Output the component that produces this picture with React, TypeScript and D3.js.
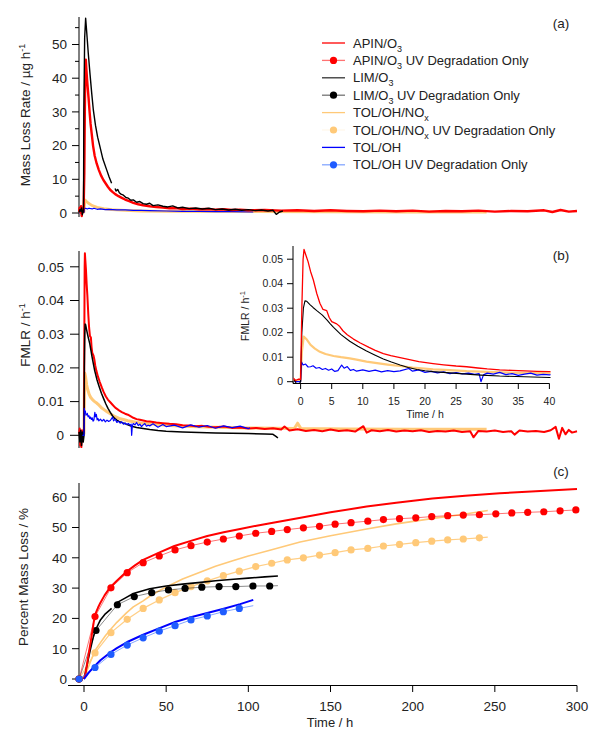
import React from 'react';
import * as d3 from 'd3';

type P = [number, number | null];

const RED = '#ff0000';
const BLACK = '#000000';
const ORANGE = '#ffc978';
const BLUE = '#0000ff';
const BLUE_DOT = '#1f5cff';
const FONT = 'Liberation Sans, Arial, sans-serif';

// ---------- Panel (a): mass loss rate, µg/h ----------
const apinRate: P[] = [
  [-3, 0.4], [-2.6, 1.6], [-2.2, 0.2], [-1.8, 2.0], [-1.4, -0.9], [-1, 1.2], [-0.6, 0.3], [-0.2, 1.8],
  [0.2, 12], [0.5, 30], [0.8, 43], [1.1, 45.5], [1.4, 43], [1.8, 40], [2.3, 37], [2.8, 34], [3.4, 30],
  [4, 26.5], [4.7, 23.5], [5.5, 20], [6.5, 17], [7.7, 14.7], [9, 12.8], [10.5, 11], [11.8, 9.8],
  [13, 8.9], [14.5, 7.8], [15.9, 6.9], [17.5, 6.2], [19, 5.6], [21, 5.0], [23, 4.5], [25, 4.0],
  [27.5, 3.5], [30, 3.0], [33, 2.6], [36, 2.3], [40, 2.0], [44, 1.8], [48, 1.6], [52, 1.4], [56, 1.5],
  [60, 1.2], [65, 1.3], [70, 1.1], [75, 1.2], [80, 1.0], [85, 1.1], [90, 0.9], [95, 1.0], [100, 0.8],
  [110, 0.9], [120, 0.7], [130, 0.8], [140, 0.6], [150, 0.8], [160, 0.6], [170, 0.5], [180, 0.7],
  [190, 0.5], [200, 0.7], [210, 0.4], [220, 0.6], [230, 0.5], [240, 0.7], [250, 0.4], [260, 0.6],
  [270, 0.5], [280, 0.8], [285, 0.3], [290, 0.9], [295, 0.4], [300, 0.6],
];
const limRate: P[] = [
  [-3, 0.2], [-2.5, 1.0], [-2, 0.5], [-1.5, 1.5], [-1, -0.5], [-0.6, 0.8], [-0.3, 0.3],
  [-0.1, 30], [0.4, 52], [1.0, 57.8], [1.6, 54], [2.6, 47.4], [3.7, 41], [4.7, 35.5], [5.7, 30.5],
  [7, 26], [8.3, 22.5], [9.7, 19.7], [11.5, 16], [13.8, 12.8], [15.3, 10.7], [16.8, 8.8], [17.8, null],
  [18.9, 7.3], [19.5, 6.5], [20.5, 7.0], [21.5, 6.0], [22.5, 5.6], [24, 5.3], [25.5, 4.6], [27, 4.4],
  [28.5, 3.8], [30, 3.9], [32, 3.2], [34, 3.4], [36, 2.8], [38, 2.6], [40, 2.9], [42, 2.2], [45, 2.4],
  [48, 2.0], [51, 1.8], [54, 2.1], [57, 1.5], [60, 1.7], [64, 1.3], [68, 1.5], [72, 1.2], [76, 1.4],
  [80, 1.0], [84, 1.2], [88, 0.9], [92, 1.1], [96, 0.8], [100, 1.0], [104, 0.7], [108, 0.9], [112, 0.6],
  [115, 0.8], [117, -0.4], [119, 0.3], [121, 0.6],
];
const tolNoxRate: P[] = [
  [-3, 0.2], [-1, 0.3], [0, 0.3], [0.2, 2], [0.6, 3.9], [1.5, 3.4], [3, 2.8], [5, 2.2], [8, 1.7],
  [12, 1.3], [17, 1.0], [25, 0.8], [35, 0.6], [50, 0.5], [100, 0.4], [150, 0.35], [200, 0.3], [245, 0.3],
];
const tolRate: P[] = [
  [-3, 0.0], [0, 0.2], [0.3, 1.3], [1, 1.4], [2, 1.2], [3, 1.4], [5, 1.2], [6, 1.4], [8, 1.1],
  [10, 1.2], [13, 1.0], [15, 1.1], [20, 0.9], [25, 0.9], [30, 0.8], [35, 0.8], [40, 0.7], [50, 0.6],
  [60, 0.5], [70, 0.5], [80, 0.4], [90, 0.4], [103, 0.3],
];

// ---------- Panel (b): fractional mass loss rate, 1/h ----------
const apinFmlr: P[] = [
  [-3, 0.0005], [-2.6, 0.002], [-2.3, -0.003], [-2, 0.001], [-1.6, -0.0035], [-1.2, 0.0015],
  [-0.8, 0.0005], [-0.4, 0.001], [0, 0.001], [0.2, 0.03], [0.4, 0.05], [0.55, 0.054], [0.8, 0.052],
  [1.2, 0.049], [1.6, 0.045], [2.05, 0.0415], [2.6, 0.036], [3.1, 0.032], [3.6, 0.0295], [4.2, 0.029],
  [4.6, 0.0262], [5, 0.0245], [5.8, 0.0236], [6.3, 0.0225], [6.8, 0.0208], [7.5, 0.0192], [8.5, 0.0174],
  [9.6, 0.0158], [11, 0.014], [12, 0.0128], [13.3, 0.0115], [14.5, 0.0106], [16, 0.0098], [17.5, 0.009],
  [19, 0.0082], [21.3, 0.0074], [23, 0.0069], [25, 0.0064], [26.7, 0.0061], [28.5, 0.0056], [30, 0.0052],
  [32, 0.0048], [34, 0.0046], [36, 0.0044], [38, 0.0042], [40, 0.0041], [44, 0.0038], [48, 0.0036],
  [52, 0.0034], [56, 0.0033], [60, 0.0030], [64, 0.0029], [68, 0.0027], [72, 0.0028], [76, 0.0025],
  [80, 0.0024], [85, 0.0026], [90, 0.0022], [95, 0.0023], [100, 0.0020], [105, 0.0022], [110, 0.0019],
  [115, 0.0021], [120, 0.0017], [122, 0.0026], [125, 0.0014], [130, 0.0018], [135, 0.0013], [140, 0.0016],
  [145, 0.0012], [150, 0.0017], [155, 0.0013], [160, 0.0015], [165, 0.0011], [170, 0.0027], [172, 0.0008],
  [175, 0.0015], [180, 0.0012], [185, 0.0016], [190, 0.0011], [195, 0.0014], [200, 0.0012], [205, 0.0015],
  [210, 0.0010], [215, 0.0013], [220, 0.0011], [225, 0.0014], [230, 0.0010], [235, 0.0012], [237, -0.0006],
  [240, 0.0013], [245, 0.0011], [250, 0.0014], [255, 0.0010], [260, 0.0012], [262, 0.0002], [265, 0.0014],
  [270, 0.0011], [275, 0.0013], [280, 0.0010], [284, 0.0015], [287, 0.0025], [289, -0.0010], [291, 0.0022],
  [293, 0.0003], [295, 0.0016], [297, 0.0008], [300, 0.0012],
];
const limFmlr: P[] = [
  [-3, 0.001], [-2.5, -0.002], [-2, 0.0015], [-1.5, -0.003], [-1, 0.001], [-0.5, -0.002], [0, 0],
  [0.2, 0.02], [0.45, 0.03], [0.7, 0.033], [1, 0.0328], [1.5, 0.0315], [2, 0.0303], [2.6, 0.029],
  [3.5, 0.0272], [4.3, 0.025], [4.7, 0.0238], [5.3, 0.0222], [6.5, 0.0192], [7.9, 0.0165], [9.2, 0.0145],
  [10.6, 0.0125], [12, 0.0108], [13.3, 0.0093], [14.6, 0.008], [16, 0.0068], [17.3, 0.0058], [18.7, 0.005],
  [20, 0.0045], [21.3, 0.0041], [24, 0.0036], [26.7, 0.0031], [29, 0.0027], [32, 0.0023], [36, 0.002],
  [40, 0.0017], [45, 0.0014], [50, 0.0012], [60, 0.001], [70, 0.0008], [80, 0.0007], [90, 0.0006],
  [100, 0.0005], [110, 0.0004], [115, 0.0003], [117, -0.0004], [118, -0.0008],
];
const tolNoxFmlr: P[] = [
  [-3, 0.0005], [0, 0.0005], [0.2, 0.012], [0.5, 0.0184], [1, 0.0172], [1.6, 0.015], [2.3, 0.0135],
  [3.1, 0.0122], [4, 0.0113], [5.3, 0.0105], [6.5, 0.01], [7.9, 0.0095], [9, 0.009], [10.6, 0.0082],
  [12, 0.0077], [14, 0.007], [16, 0.0064], [18, 0.0058], [21.3, 0.005], [24, 0.0047], [26.7, 0.0043],
  [30, 0.004], [35, 0.0036], [40, 0.0034], [50, 0.003], [60, 0.0027], [80, 0.0024], [100, 0.0022],
  [128, 0.002], [130, 0.0036], [132, 0.002], [160, 0.0019], [200, 0.0018], [245, 0.0018],
];
const tolFmlr: P[] = [
  [-1, 0], [0, 0], [0.15, 0.008], [0.4, 0.0068], [0.8, 0.0072], [1.2, 0.006], [1.6, 0.0061], [2, 0.0065],
  [2.5, 0.0055], [3, 0.0058], [3.5, 0.005], [4, 0.0054], [4.5, 0.0047], [5, 0.0052], [5.5, 0.0042],
  [6, 0.0045], [6.6, 0.0068], [7, 0.0055], [7.5, 0.0062], [8, 0.0046], [8.5, 0.005], [9, 0.0043],
  [10, 0.0048], [11, 0.0042], [12, 0.0047], [13, 0.004], [14, 0.0045], [15, 0.0041], [16, 0.0044],
  [17.4, 0.0054], [18, 0.0043], [19, 0.0048], [20, 0.0038], [21, 0.0042], [22, 0.0036], [23, 0.004],
  [24, 0.0033], [25, 0.0037], [26, 0.0032], [27, 0.0035], [28, 0.003], [28.7, 0.0033], [29, 0.0],
  [29.4, 0.0028], [30, 0.0035], [31, 0.0031], [32, 0.0038], [33, 0.0029], [34, 0.0033], [35, 0.0026],
  [36, 0.0031], [37, 0.0035], [38, 0.0027], [39, 0.003], [40, 0.0028], [42, 0.0034], [45, 0.0024],
  [48, 0.0032], [50, 0.0026], [55, 0.003], [60, 0.0022], [65, 0.0031], [70, 0.0024], [75, 0.0029],
  [80, 0.0021], [85, 0.0028], [90, 0.0023], [95, 0.0027], [100, 0.002], [101, 0.0022],
];

// ---------- Panel (c): percent mass loss ----------
const apinPml: P[] = [
  [0, 0], [1, 2], [2, 5.5], [3, 8.8], [4, 12], [5, 15.5], [6, 19], [7, 21.6], [8.5, 23.5], [10, 25.2],
  [12.5, 27.6], [16, 30.3], [20, 32.4], [26, 35.5], [31, 37.5], [36, 39.3], [46, 41.8], [55, 43.9],
  [65, 45.6], [75, 47.2], [85, 48.4], [95, 49.5], [105, 50.6], [115, 51.6], [131, 53.1], [150, 55],
  [172, 56.9], [190, 58.2], [212, 59.6], [232, 60.5], [253, 61.3], [275, 62], [300, 62.7],
];
const apinUv: P[] = [
  [-3, 0], [6.7, 20.6], [16.4, 30.1], [26.3, 35.1], [36, 38.4], [45.8, 40.6], [55.4, 42.6], [65.1, 44],
  [75, 45.2], [84.8, 46.2], [94.5, 47.2], [104.5, 48.1], [114.2, 48.7], [123.7, 49.3], [133.5, 49.9],
  [143.3, 50.4], [152.8, 51.1], [162.5, 51.6], [172.7, 52.1], [182.2, 52.6], [192, 52.9], [201.9, 53.2],
  [211.6, 53.6], [221.3, 53.9], [230.8, 54.1], [240.6, 54.2], [250.6, 54.5], [260.3, 54.8], [270, 55.0],
  [279.8, 55.2], [289.7, 55.5], [299.3, 55.8],
];
const limPml: P[] = [
  [0, 0], [2, 5], [4, 10], [5.7, 14], [7.3, 16.5], [10, 19.5], [13, 21.5], [15.8, 22.8], [16.8, 23.3],
  [18.5, null], [20, 25.2], [25, 26.7], [30, 28.2], [40, 29.8], [50, 30.7], [60, 31.3], [71, 31.9],
  [80, 32.4], [91, 32.9], [100, 33.3], [110, 33.7], [118, 34.0],
];
const limUv: P[] = [
  [-3, 0], [7.3, 16], [20.3, 24.5], [30.6, 27.2], [41.2, 28.5], [51.4, 29.4], [61.5, 29.9], [71.7, 30.3],
  [82.2, 30.5], [92.4, 30.5], [102.8, 30.7], [113, 30.7],
];
const tolNoxPml: P[] = [
  [0, 0], [2, 3], [4, 5.8], [6.7, 9.4], [10, 12], [13, 14.3], [16.4, 16.5], [20, 18.7], [26, 21.9],
  [30, 23.8], [36, 25.8], [40, 27.3], [46, 29.2], [51, 30.6], [60, 33], [71, 35.3], [80, 37.2],
  [91, 39.1], [100, 40.6], [112, 42.3], [122, 43.8], [131.5, 45.2], [150, 47.3], [172, 49.5],
  [190, 51.2], [212.6, 53], [230, 54.3], [245.7, 55.6],
];
const tolNoxUv: P[] = [
  [-3, 0], [6.7, 8.6], [16.4, 15.3], [26.3, 19.7], [36, 23.3], [45.8, 26.1], [55.4, 28.5], [65.1, 30.5],
  [75, 32.4], [84.8, 34.1], [94.5, 35.6], [104.5, 37.1], [114.2, 38.2], [123.7, 39.3], [133.5, 40.0],
  [143.3, 40.9], [152.8, 41.7], [162.5, 42.6], [172.7, 43.1], [182.2, 43.9], [192, 44.4], [201.9, 45.0],
  [211.6, 45.5], [221.3, 45.9], [230.8, 46.2], [240.6, 46.6],
];
const tolPml: P[] = [
  [0, 0], [3, 2.2], [6.7, 4.4], [10, 6.2], [16.4, 8.9], [20, 10.2], [26.3, 12.2], [36, 14.6],
  [46, 16.8], [55.4, 18.8], [65, 20.4], [75, 21.8], [85, 23.2], [95, 24.7], [103, 26.1],
];
const tolUv: P[] = [
  [-3, 0], [6.7, 3.8], [16.4, 8.1], [26.3, 11.2], [36, 13.6], [45.8, 15.8], [55.4, 17.6], [65.1, 19.5],
  [75, 20.8], [84.8, 22.2], [94.5, 23.3],
];
// last point of each UV record (drawn as line only, no marker)
const apinUvEnd: P[] = [[300, 55.8]];
const limUvEnd: P[] = [[118, 30.8]];
const tolNoxUvEnd: P[] = [[245.7, 46.8]];
const tolUvEnd: P[] = [[103, 24.2]];

// ticks
const ticksA = [0, 10, 20, 30, 40, 50];
const minorA = [5, 15, 25, 35, 45, 55];
const ticksB = [0, 0.01, 0.02, 0.03, 0.04, 0.05];
const ticksC = [0, 10, 20, 30, 40, 50, 60];
const ticksX = [0, 50, 100, 150, 200, 250, 300];
const ticksInX = [0, 5, 10, 15, 20, 25, 30, 35, 40];

const legendItems = [
  { main: 'APIN/O', sub: '3', rest: '', color: RED, dot: false, lineOp: 1 },
  { main: 'APIN/O', sub: '3', rest: ' UV Degradation Only', color: RED, dot: true, lineOp: 0.55 },
  { main: 'LIM/O', sub: '3', rest: '', color: '#333333', dot: false, lineOp: 1 },
  { main: 'LIM/O', sub: '3', rest: ' UV Degradation Only', color: BLACK, dot: true, lineOp: 0.55 },
  { main: 'TOL/OH/NO', sub: 'x', rest: '', color: ORANGE, dot: false, lineOp: 1 },
  { main: 'TOL/OH/NO', sub: 'x', rest: ' UV Degradation Only', color: ORANGE, dot: true, lineOp: 0.15 },
  { main: 'TOL/OH', sub: '', rest: '', color: BLUE, dot: false, lineOp: 1 },
  { main: 'TOL/OH', sub: '', rest: ' UV Degradation Only', color: BLUE_DOT, dot: true, lineOp: 0.55 },
];

const x = d3.scaleLinear().domain([0, 300]).range([84, 577]);
const yA = d3.scaleLinear().domain([0, 50]).range([213, 44.5]);
const yB = d3.scaleLinear().domain([0, 0.05]).range([435.3, 266.8]);
const yC = d3.scaleLinear().domain([0, 60]).range([679, 497.2]);
const xIn = d3.scaleLinear().domain([0, 40]).range([300.6, 549.4]);
const yIn = d3.scaleLinear().domain([0, 0.05]).range([381.7, 259.2]);

function mk(xs: d3.ScaleLinear<number, number>, ys: d3.ScaleLinear<number, number>) {
  return d3
    .line<P>()
    .defined((d) => d[1] !== null)
    .x((d) => xs(d[0]))
    .y((d) => ys(d[1] as number));
}
const lineA = mk(x, yA);
const lineB = mk(x, yB);
const lineC = mk(x, yC);
const lineIn = mk(xIn, yIn);

const fmtB = (v: number) => (v === 0 ? '0' : d3.format('.2f')(v));

function Path({ d, color, w, op = 1 }: { d: string | null; color: string; w: number; op?: number }) {
  return <path d={d || ''} fill="none" stroke={color} strokeWidth={w} strokeOpacity={op} strokeLinejoin="round" />;
}

function Dots({ data, color }: { data: P[]; color: string }) {
  return (
    <g>
      {data.map((p, i) => (
        <circle key={i} cx={x(p[0])} cy={yC(p[1] as number)} r={3.6} fill={color} />
      ))}
    </g>
  );
}

function YAxis({ scale, ticks, minor, top, bottom, fmt, labelX, tickLen }: any) {
  return (
    <g>
      <line x1={79} x2={79} y1={top} y2={bottom} stroke="#000" strokeWidth={1} />
      {ticks.map((t: number) => (
        <g key={t}>
          <line x1={79 - tickLen} x2={79} y1={scale(t)} y2={scale(t)} stroke="#000" />
          <text x={labelX} y={scale(t)} dy="0.36em" textAnchor="end" fontSize={13.5} fontFamily={FONT} fill="#222">
            {fmt(t)}
          </text>
        </g>
      ))}
      {(minor || []).map((t: number) => (
        <line key={'m' + t} x1={79 - 4} x2={79} y1={scale(t)} y2={scale(t)} stroke="#000" />
      ))}
    </g>
  );
}

export default function App() {
  return (
    <svg width={590} height={730} style={{ position: 'absolute', left: 0, top: 0, background: '#fff' }}>
      <defs>
        <clipPath id="clipInset">
          <rect x={293.5} y={240} width={257} height={143} />
        </clipPath>
      </defs>

      {/* ---------- Panel (a) ---------- */}
      <YAxis scale={yA} ticks={ticksA} minor={minorA.filter((m) => m < 58)} top={17} bottom={217} fmt={(v: number) => String(v)} labelX={67} tickLen={7} />
      <text transform="translate(30,115) rotate(-90)" textAnchor="middle" fontSize={13.5} fontFamily={FONT} fill="#222">
        Mass Loss Rate / µg h<tspan dy={-5} fontSize={9}>-1</tspan>
      </text>
      <Path d={lineA(tolNoxRate)} color={ORANGE} w={2.8} />
      <Path d={lineA(tolRate)} color={BLUE} w={1.2} />
      <Path d={lineA(apinRate)} color={RED} w={2.4} />
      <Path d={lineA(limRate)} color={BLACK} w={1.4} />
      <text x={561} y={23} dy="0.35em" textAnchor="middle" fontSize={13.5} fontFamily={FONT} fill="#222">(a)</text>

      {legendItems.map((it, i) => {
        const cy = 43 + i * 17.4;
        return (
          <g key={i}>
            <line x1={322} x2={345} y1={cy} y2={cy} stroke={it.color} strokeWidth={1.3} strokeOpacity={it.lineOp} />
            {it.dot && <circle cx={333.5} cy={cy} r={3.6} fill={it.color} />}
            <text x={353} y={cy} dy="0.36em" fontSize={13} fontFamily={FONT} fill="#222">
              {it.main}
              {it.sub && (
                <tspan dy={4} fontSize={9}>
                  {it.sub}
                </tspan>
              )}
              {it.rest && <tspan dy={it.sub ? -4 : 0}>{it.rest}</tspan>}
            </text>
          </g>
        );
      })}

      {/* ---------- Panel (b) ---------- */}
      <YAxis scale={yB} ticks={ticksB} top={251} bottom={448} fmt={fmtB} labelX={64} tickLen={9} />
      <text transform="translate(30,335) rotate(-90)" textAnchor="middle" fontSize={13.5} fontFamily={FONT} fill="#222">
        FMLR / h<tspan dy={-5} fontSize={9}>-1</tspan>
      </text>
      <Path d={lineB(tolNoxFmlr)} color={ORANGE} w={3} />
      <Path d={lineB(apinFmlr)} color={RED} w={2} />
      <Path d={lineB(limFmlr)} color={BLACK} w={1.5} />
      <Path d={lineB(tolFmlr)} color={BLUE} w={1.2} />
      <text x={561} y={255} dy="0.35em" textAnchor="middle" fontSize={13.5} fontFamily={FONT} fill="#222">(b)</text>

      {/* inset */}
      <g>
        <line x1={293} x2={293} y1={246} y2={383.5} stroke="#000" />
        <line x1={293} x2={549.5} y1={383.5} y2={383.5} stroke="#000" />
        {ticksB.map((t) => (
          <g key={'iy' + t}>
            <line x1={287} x2={293} y1={yIn(t)} y2={yIn(t)} stroke="#000" />
            <text x={283} y={yIn(t)} dy="0.36em" textAnchor="end" fontSize={10.5} fontFamily={FONT} fill="#222">
              {fmtB(t)}
            </text>
          </g>
        ))}
        {ticksInX.map((t) => (
          <g key={'ix' + t}>
            <line x1={xIn(t)} x2={xIn(t)} y1={383.5} y2={389} stroke="#000" />
            <text x={xIn(t)} y={401.5} dy="0.36em" textAnchor="middle" fontSize={10.5} fontFamily={FONT} fill="#222">
              {t}
            </text>
          </g>
        ))}
        <text x={xIn(20)} y={414} dy="0.36em" textAnchor="middle" fontSize={10.5} fontFamily={FONT} fill="#222">
          Time / h
        </text>
        <text transform="translate(249,316) rotate(-90)" textAnchor="middle" fontSize={10.5} fontFamily={FONT} fill="#222">
          FMLR / h<tspan dy={-4} fontSize={7.5}>-1</tspan>
        </text>
        <g clipPath="url(#clipInset)">
          <Path d={lineIn(tolNoxFmlr)} color={ORANGE} w={2.2} />
          <Path d={lineIn(tolFmlr)} color={BLUE} w={1.2} />
          <Path d={lineIn(limFmlr)} color={BLACK} w={1.1} />
          <Path d={lineIn(apinFmlr)} color={RED} w={1.3} />
        </g>
      </g>

      {/* ---------- Panel (c) ---------- */}
      <YAxis scale={yC} ticks={ticksC} top={483} bottom={683} fmt={(v: number) => String(v)} labelX={67} tickLen={7} />
      <line x1={68} x2={577} y1={685.5} y2={685.5} stroke="#000" />
      {ticksX.map((t) => (
        <g key={'x' + t}>
          <line x1={x(t)} x2={x(t)} y1={685.5} y2={692} stroke="#000" />
          <text x={x(t)} y={706} dy="0.36em" textAnchor="middle" fontSize={13.5} fontFamily={FONT} fill="#222">
            {t}
          </text>
        </g>
      ))}
      <text x={330} y={727} textAnchor="middle" fontSize={13} fontFamily={FONT} fill="#222">
        Time / h
      </text>
      <text transform="translate(28,577) rotate(-90)" textAnchor="middle" fontSize={13.5} fontFamily={FONT} fill="#222">
        Percent Mass Loss / %
      </text>
      <text x={561} y={471} dy="0.35em" textAnchor="middle" fontSize={13.5} fontFamily={FONT} fill="#222">(c)</text>

      <Path d={lineC(tolNoxUv.concat(tolNoxUvEnd))} color={ORANGE} w={1.2} op={0.9} />
      <Path d={lineC(tolNoxPml)} color={ORANGE} w={1.6} />
      <Dots data={tolNoxUv} color={ORANGE} />
      <Path d={lineC(limUv.concat(limUvEnd))} color={BLACK} w={1} op={0.45} />
      <Path d={lineC(limPml)} color={BLACK} w={1.6} />
      <Dots data={limUv} color={BLACK} />
      <Path d={lineC(apinUv.concat(apinUvEnd))} color={RED} w={1} op={0.55} />
      <Path d={lineC(apinPml)} color={RED} w={2} />
      <Dots data={apinUv} color={RED} />
      <Path d={lineC(tolUv.concat(tolUvEnd))} color={BLUE_DOT} w={1} op={0.55} />
      <Path d={lineC(tolPml)} color={BLUE} w={2} />
      <Dots data={tolUv} color={BLUE_DOT} />
    </svg>
  );
}
